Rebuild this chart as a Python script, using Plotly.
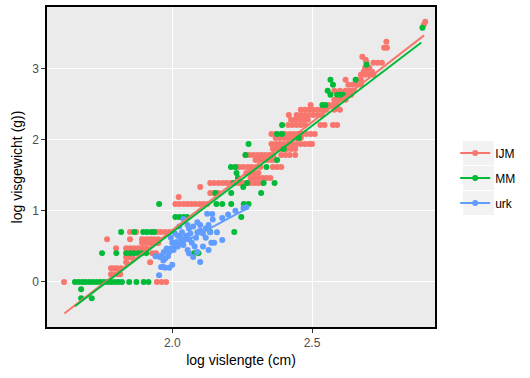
import plotly.graph_objects as go

# ---------------- data ----------------
groups = ["IJM", "MM", "urk"]
colors = ["#F8766D", "#00BA38", "#619CFF"]

ijm_xy = [
    (1.613, 0.0), (1.945, 0.0), (1.962, 0.0), (1.978, 0.0),
    (1.781, 0.109), (1.792, 0.109), (1.803, 0.109), (1.814, 0.109),
    (1.781, 0.193), (1.792, 0.193), (1.803, 0.193), (1.817, 0.193),
    (1.835, 0.278), (1.921, 0.278),
    (1.835, 0.348), (1.846, 0.348), (1.857, 0.348),
    (1.928, 0.405), (1.942, 0.405),
    (1.799, 0.475), (1.835, 0.475), (1.85, 0.475), (1.864, 0.475), (1.878, 0.475), (1.892, 0.475), (1.907, 0.475),
    (1.892, 0.546), (1.907, 0.546), (1.921, 0.546), (1.935, 0.546), (1.95, 0.546),
    (1.767, 0.602), (1.849, 0.602), (1.892, 0.602), (1.907, 0.602), (1.921, 0.602), (1.935, 0.602), (1.95, 0.602),
    (1.849, 0.701), (1.871, 0.701), (1.946, 0.701), (1.96, 0.701), (1.975, 0.701), (1.99, 0.701),
    (2.011, 1.096), (2.025, 1.096), (2.04, 1.096), (2.054, 1.096), (2.068, 1.096), (2.082, 1.096), (2.097, 1.096), (2.111, 1.096), (2.125, 1.096),
    (2.023, 1.195),
    (2.136, 1.251), (2.15, 1.251), (2.165, 1.251),
    (2.1, 1.336),
    (2.136, 1.392), (2.15, 1.392), (2.165, 1.392), (2.18, 1.392), (2.194, 1.392), (2.208, 1.392), (2.222, 1.392),
    (2.237, 1.392), (2.251, 1.392), (2.265, 1.392), (2.28, 1.392), (2.294, 1.392), (2.308, 1.392), (2.323, 1.392),
    (2.28, 1.462), (2.294, 1.462), (2.308, 1.462), (2.323, 1.462), (2.337, 1.462), (2.351, 1.462),
    (2.265, 1.533), (2.28, 1.533), (2.294, 1.533), (2.308, 1.533),
    (2.226, 1.618), (2.24, 1.618), (2.255, 1.618), (2.27, 1.618), (2.284, 1.618), (2.3, 1.618), (2.315, 1.618),
    (2.36, 1.618), (2.375, 1.618), (2.39, 1.618),
    (2.298, 1.716), (2.312, 1.716), (2.326, 1.716), (2.34, 1.716), (2.355, 1.716), (2.369, 1.716),
    (2.262, 1.787), (2.276, 1.787), (2.29, 1.787), (2.305, 1.787), (2.319, 1.787), (2.333, 1.787),
    (2.348, 1.787), (2.362, 1.787), (2.39, 1.787), (2.405, 1.787), (2.42, 1.787), (2.44, 1.787),
    (2.36, 1.872), (2.375, 1.872), (2.39, 1.872), (2.41, 1.872), (2.425, 1.872), (2.44, 1.872),
    (2.355, 1.942), (2.37, 1.942), (2.385, 1.942), (2.4, 1.942), (2.415, 1.942), (2.43, 1.942),
    (2.445, 1.942), (2.46, 1.942), (2.475, 1.942), (2.49, 1.942), (2.5, 1.942),
    (2.37, 2.027), (2.385, 2.027), (2.4, 2.027), (2.415, 2.027), (2.43, 2.027), (2.445, 2.027), (2.46, 2.027),
    (2.355, 2.083), (2.37, 2.083), (2.39, 2.083), (2.405, 2.083), (2.42, 2.083), (2.435, 2.083),
    (2.45, 2.083), (2.465, 2.083), (2.48, 2.083), (2.495, 2.083), (2.51, 2.083),
    (2.415, 2.21), (2.43, 2.21), (2.445, 2.21), (2.46, 2.21), (2.475, 2.21), (2.53, 2.21), (2.545, 2.21), (2.575, 2.21), (2.59, 2.21),
    (2.425, 2.281), (2.44, 2.281), (2.455, 2.281), (2.47, 2.281), (2.485, 2.281),
    (2.417, 2.351), (2.445, 2.351), (2.46, 2.351), (2.475, 2.351), (2.49, 2.351), (2.505, 2.351), (2.52, 2.351), (2.535, 2.351),
    (2.46, 2.422), (2.475, 2.422), (2.49, 2.422), (2.505, 2.422), (2.52, 2.422), (2.535, 2.422), (2.55, 2.422), (2.58, 2.422), (2.6, 2.422),
    (2.495, 2.492), (2.56, 2.492), (2.575, 2.492), (2.59, 2.492),
    (2.58, 2.563), (2.6, 2.563), (2.62, 2.563),
    (2.59, 2.633), (2.61, 2.633), (2.625, 2.633), (2.64, 2.633),
    (2.58, 2.69), (2.6, 2.69), (2.62, 2.69), (2.635, 2.69), (2.65, 2.69),
    (2.63, 2.774), (2.645, 2.774), (2.66, 2.774), (2.675, 2.774),
    (2.62, 2.845), (2.66, 2.845), (2.675, 2.845),
    (2.675, 2.915), (2.69, 2.915), (2.705, 2.915), (2.72, 2.915),
    (2.685, 2.958), (2.7, 2.958), (2.715, 2.958),
    (2.69, 3.014), (2.705, 3.014),
    (2.695, 3.084), (2.72, 3.084), (2.735, 3.084), (2.75, 3.084),
    (2.692, 3.127), (2.68, 3.169),
    (2.758, 3.296), (2.768, 3.296), (2.766, 3.381),
    (2.9, 3.621), (2.905, 3.663),
]

mm_xy = [
    (1.674, -0.23), (1.712, -0.23), (1.674, -0.103),
    (1.652, 0.0), (1.665, 0.0), (1.678, 0.0), (1.69, 0.0), (1.703, 0.0), (1.716, 0.0), (1.729, 0.0), (1.742, 0.0),
    (1.755, 0.0), (1.768, 0.0), (1.781, 0.0), (1.794, 0.0), (1.807, 0.0), (1.82, 0.0), (1.846, 0.0), (1.872, 0.0),
    (1.898, 0.0), (1.915, 0.0),
    (1.749, 0.405), (1.8, 0.405), (1.835, 0.405), (1.85, 0.405), (1.864, 0.405), (1.878, 0.405), (1.892, 0.405),
    (1.907, 0.405), (2.078, 0.405), (2.094, 0.405),
    (1.817, 0.701), (1.864, 0.701), (1.896, 0.701), (1.91, 0.701), (1.925, 0.701), (1.935, 0.701), (2.136, 0.701), (2.222, 0.701),
    (2.011, 0.913), (2.025, 0.913), (2.04, 0.913), (2.053, 0.913), (2.247, 0.913),
    (1.953, 1.096), (2.158, 1.096), (2.179, 1.096), (2.211, 1.096), (2.256, 1.096), (2.273, 1.096),
    (2.154, 1.251), (2.211, 1.251), (2.318, 1.251),
    (2.254, 1.336),
    (2.22, 1.392), (2.268, 1.392), (2.327, 1.392), (2.366, 1.392),
    (2.235, 1.462), (2.23, 1.533),
    (2.21, 1.618), (2.226, 1.618), (2.337, 1.618),
    (2.375, 1.716), (2.262, 1.787), (2.399, 1.872), (2.273, 1.942), (2.453, 2.027),
    (2.375, 2.083), (2.393, 2.083), (2.393, 2.21),
    (2.537, 2.492), (2.548, 2.492),
    (2.566, 2.633), (2.59, 2.633), (2.6, 2.633), (2.61, 2.633),
    (2.556, 2.69), (2.575, 2.774), (2.566, 2.845), (2.656, 2.845),
    (2.695, 3.056), (2.895, 3.578),
]

urk_xy = [
    (1.953, 0.094), (1.96, 0.21), (1.968, 0.21), (1.975, 0.2), (1.968, 0.3), (1.975, 0.33), (1.94, 0.36),
    (1.955, 0.35), (1.962, 0.37), (1.985, 0.36), (1.99, 0.42), (1.97, 0.42), (1.98, 0.47), (1.995, 0.47),
    (2.005, 0.45), (2.01, 0.5), (2.02, 0.5), (2.0, 0.55), (2.015, 0.56), (2.03, 0.55), (2.04, 0.52),
    (2.045, 0.6), (2.03, 0.62), (2.02, 0.65), (2.05, 0.65), (2.06, 0.6), (2.065, 0.68), (2.07, 0.55),
    (2.08, 0.5), (2.055, 0.45), (2.06, 0.4), (2.075, 0.35), (2.1, 0.28), (2.09, 0.42), (2.085, 0.62),
    (2.09, 0.7), (2.1, 0.72), (2.11, 0.68), (2.12, 0.75), (2.13, 0.8), (2.12, 0.62), (2.14, 0.55),
    (2.15, 0.55), (2.135, 0.7), (2.145, 0.88), (2.125, 0.96), (2.143, 0.955), (2.04, 0.885), (2.055, 0.8),
    (2.06, 0.75), (2.09, 0.84), (2.1, 0.8), (2.179, 0.9), (2.179, 0.59), (2.16, 0.7), (2.2, 0.95),
    (2.226, 1.0), (2.255, 1.04), (2.265, 1.05), (2.035, 0.7), (2.01, 0.68), (1.995, 0.62), (2.025, 0.78),
    (2.075, 0.78), (2.11, 0.5), (2.13, 0.45), (1.99, 0.2), (2.0, 0.24),
]

# fitted regression lines (end points)
ijm_fit_x = [1.614, 2.901]
ijm_fit_y = [-0.446, 3.47]
mm_fit_x = [1.652, 2.891]
mm_fit_y = [-0.343, 3.37]
urk_fit_x = [1.945, 2.268]
urk_fit_y = [0.353, 1.035]

points = [ijm_xy, mm_xy, urk_xy]
fits = [(ijm_fit_x, ijm_fit_y), (mm_fit_x, mm_fit_y), (urk_fit_x, urk_fit_y)]

x_ticks = [2.0, 2.5]
x_ticktext = ["2.0", "2.5"]
y_ticks = [0, 1, 2, 3]

# ---------------- figure ----------------
fig = go.Figure()

for g, c, pts in zip(groups, colors, points):
    xs = [p[0] for p in pts]
    ys = [p[1] for p in pts]
    fig.add_trace(go.Scatter(x=xs, y=ys, mode="markers", name=g, showlegend=False,
                             marker=dict(color=c, size=6, line=dict(width=0))))

for g, c, (fx, fy) in zip(groups, colors, fits):
    fig.add_trace(go.Scatter(x=fx, y=fy, mode="lines", name=g, showlegend=False,
                             line=dict(color=c, width=2)))

# legend keys (line + point, like ggplot)
for g, c in zip(groups, colors):
    fig.add_trace(go.Scatter(x=[None], y=[None], mode="lines+markers", name=g, legendgroup=g,
                             line=dict(color=c, width=2), marker=dict(color=c, size=6)))

# light grey legend key backgrounds (ggplot style)
key_boxes = []
for y0, y1 in [(0.506, 0.581), (0.428, 0.503), (0.350, 0.425)]:
    key_boxes.append(dict(type="rect", xref="paper", yref="paper", x0=1.072, x1=1.152,
                          y0=y0, y1=y1, fillcolor="#F2F2F2", line=dict(width=0), layer="below"))

fig.update_layout(
    width=530, height=378,
    margin=dict(l=47, r=95, t=7, b=51, autoexpand=False),
    plot_bgcolor="#EBEBEB", paper_bgcolor="white",
    font=dict(family="Liberation Sans, Arial, sans-serif", size=12, color="black"),
    legend=dict(x=1.052, y=0.466, xanchor="left", yanchor="middle",
                bgcolor="rgba(0,0,0,0)", traceorder="grouped", tracegroupgap=6,
                font=dict(size=12, color="black")),
    shapes=key_boxes,
)

fig.update_xaxes(range=[1.552, 2.94], tickvals=x_ticks, ticktext=x_ticktext, automargin=False,
                 showgrid=True, gridcolor="white", gridwidth=1.2, zeroline=False,
                 ticks="outside", ticklen=4, tickcolor="#333333", tickwidth=1,
                 tickfont=dict(size=12, color="#4D4D4D"),
                 showline=True, linecolor="black", linewidth=1.5, mirror=True,
                 title=dict(text="log vislengte (cm)", font=dict(size=14, color="black"), standoff=6))
fig.update_yaxes(range=[-0.635, 3.87], tickvals=y_ticks, automargin=False,
                 showgrid=True, gridcolor="white", gridwidth=1.2, zeroline=False,
                 ticks="outside", ticklen=4, tickcolor="#333333", tickwidth=1,
                 tickfont=dict(size=12, color="#4D4D4D"),
                 showline=True, linecolor="black", linewidth=1.5, mirror=True,
                 title=dict(text="log visgewicht (g))", font=dict(size=14, color="black"), standoff=6))

fig.write_html("out.html", config={"displayModeBar": False},
               post_script="document.body.style.margin='0';")
